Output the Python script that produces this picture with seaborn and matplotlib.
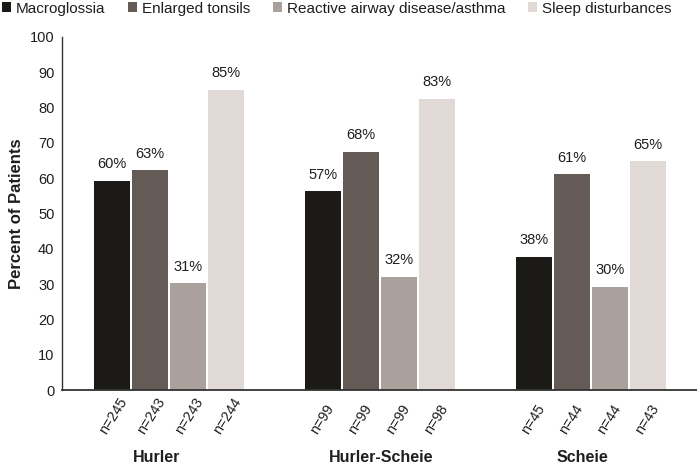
import matplotlib
matplotlib.use("Agg")
import matplotlib.pyplot as plt
import seaborn as sns
import pandas as pd
from matplotlib.transforms import offset_copy

# ---- data ----
groups = ["Hurler", "Hurler-Scheie", "Scheie"]
conditions = ["Macroglossia", "Enlarged tonsils",
              "Reactive airway disease/asthma", "Sleep disturbances"]
macroglossia = [59.2, 56.3, 37.7]
enlarged_tonsils = [62.2, 67.4, 61.1]
asthma = [30.2, 32.1, 29.2]
sleep = [85.0, 82.4, 64.8]
pct_macroglossia = ["60%", "57%", "38%"]
pct_tonsils = ["63%", "68%", "61%"]
pct_asthma = ["31%", "32%", "30%"]
pct_sleep = ["85%", "83%", "65%"]
n_macroglossia = [245, 99, 45]
n_tonsils = [243, 99, 44]
n_asthma = [243, 99, 44]
n_sleep = [244, 98, 43]
yticks = [0, 10, 20, 30, 40, 50, 60, 70, 80, 90, 100]

# ---- style ----
colors = ["#1c1a17", "#655b56", "#aaa19d", "#e0d9d6"]
text_color = "#1e1e1e"
group_label_nudge = [-0.06, 0.005, -0.043]

sns.set_style("white")
plt.rcParams["font.family"] = ["Liberation Sans", "DejaVu Sans"]

series = [macroglossia, enlarged_tonsils, asthma, sleep]
pcts = [pct_macroglossia, pct_tonsils, pct_asthma, pct_sleep]
ns = [n_macroglossia, n_tonsils, n_asthma, n_sleep]

rows = []
for cond, vals in zip(conditions, series):
    for g, v in zip(groups, vals):
        rows.append({"group": g, "condition": cond, "value": v})
df = pd.DataFrame(rows)

fig = plt.figure(figsize=(6.97, 4.67), dpi=100)
ax = fig.add_axes([62 / 697, 1 - 390 / 467, 1 - 62 / 697, (390 - 37) / 467])

sns.barplot(data=df, x="group", y="value", hue="condition",
            order=groups, hue_order=conditions, palette=colors,
            width=0.72, gap=0.05, linewidth=0, saturation=1,
            errorbar=None, ax=ax)

ax.set_ylim(0, 100)
ax.set_xlim(-0.507, 2.502)
ax.set_yticks(yticks)
ax.set_yticklabels([str(t) for t in yticks], fontsize=10.5, color=text_color)
ax.tick_params(axis="y", direction="out", length=3.5, width=1, color="#333333", pad=2)
ax.tick_params(axis="x", length=0)
ax.set_xticklabels([])
ax.set_xlabel("")
ax.set_ylabel("Percent of Patients", fontsize=12, fontweight="bold",
              color=text_color, labelpad=4)

for side in ["top", "right"]:
    ax.spines[side].set_visible(False)
ax.spines["left"].set_color("#333333")
ax.spines["left"].set_linewidth(1.0)
ax.spines["bottom"].set_color("#333333")
ax.spines["bottom"].set_linewidth(1.3)

# percentage labels and n labels
for cont, lab, nn in zip(ax.containers, pcts, ns):
    ax.bar_label(cont, labels=lab, padding=7, fontsize=10.5, color=text_color)
    for bar, n in zip(cont, nn):
        cx = bar.get_x() + bar.get_width() / 2
        tr = offset_copy(ax.transData, fig=fig, x=-4, y=-32.5, units="points")
        ax.text(cx, 0, f"n={n}", transform=tr, rotation=58,
                rotation_mode="anchor", ha="left", va="baseline",
                fontsize=10.3, color=text_color)

# group labels
for i, g in enumerate(groups):
    ax.text(i + group_label_nudge[i], 0, g,
            transform=offset_copy(ax.transData, fig=fig, x=0, y=-(465 - 390) * 0.72, units="points"),
            ha="center", va="bottom", fontsize=11.5, fontweight="bold",
            color=text_color)

# legend
handles, labels = ax.get_legend_handles_labels()
ax.get_legend().remove()
fig.legend(handles, labels, loc="upper left", bbox_to_anchor=(0.0, 1.0),
           ncol=4, frameon=False, fontsize=11, handlelength=0.6,
           handleheight=0.6, handletextpad=0.35, columnspacing=1.45,
           borderaxespad=0.0, borderpad=0.1, labelcolor=text_color)

fig.savefig("out.png", dpi=100)
